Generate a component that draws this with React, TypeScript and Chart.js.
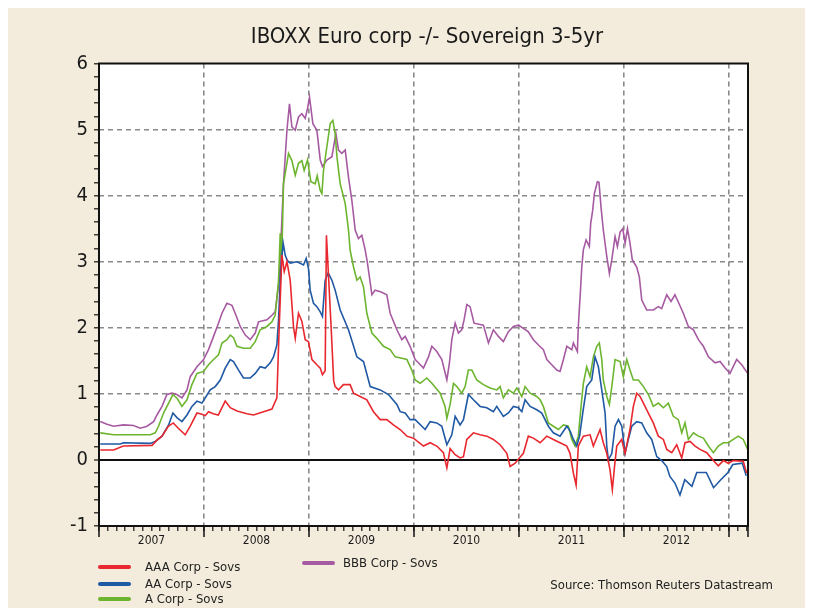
import React, { useEffect, useRef } from 'react';
import { Chart, registerables } from 'chart.js';

Chart.register(...registerables);

const FONT = '"Liberation Sans Narrow", "DejaVu Sans Condensed", "Liberation Sans", Arial, sans-serif';

const chartTitle = 'IBOXX Euro corp -/- Sovereign 3-5yr';
const sourceNote = 'Source: Thomson Reuters Datastream';
const yearLabels = ['2007', '2008', '2009', '2010', '2011', '2012'];
const seriesNames = ['AAA Corp - Sovs', 'AA Corp - Sovs', 'A Corp - Sovs', 'BBB Corp - Sovs'];
const seriesColors = ['#e8282e', '#1f58a3', '#6db52f', '#a65aa2'];

// [decimal year, spread %]
const aaaSeries: [number, number][] = [
  [2007.012, 0.15], [2007.139, 0.15], [2007.231, 0.21], [2007.505, 0.22], [2007.552, 0.3], [2007.6, 0.36],
  [2007.66, 0.51], [2007.707, 0.56], [2007.755, 0.48], [2007.821, 0.38], [2007.869, 0.51], [2007.933, 0.71],
  [2007.98, 0.69], [2008.012, 0.67], [2008.043, 0.73], [2008.088, 0.7], [2008.136, 0.68], [2008.202, 0.89],
  [2008.25, 0.79], [2008.314, 0.74], [2008.409, 0.7], [2008.472, 0.68], [2008.567, 0.73], [2008.647, 0.77],
  [2008.694, 0.94], [2008.716, 2.0], [2008.742, 3.1], [2008.764, 2.85], [2008.79, 3.0], [2008.821, 2.72],
  [2008.852, 2.02], [2008.869, 1.84], [2008.9, 2.22], [2008.932, 2.1], [2008.964, 1.82], [2008.995, 1.79],
  [2009.028, 1.52], [2009.075, 1.44], [2009.107, 1.39], [2009.128, 1.29], [2009.154, 1.35], [2009.166, 3.4],
  [2009.187, 2.75], [2009.211, 2.0], [2009.235, 1.2], [2009.249, 1.11], [2009.281, 1.06], [2009.328, 1.14],
  [2009.392, 1.14], [2009.424, 1.01], [2009.487, 0.96], [2009.551, 0.91], [2009.614, 0.73], [2009.678, 0.61],
  [2009.741, 0.61], [2009.804, 0.53], [2009.868, 0.46], [2009.932, 0.36], [2009.995, 0.33], [2010.09, 0.21],
  [2010.154, 0.26], [2010.217, 0.21], [2010.28, 0.11], [2010.313, -0.12], [2010.344, 0.17], [2010.392, 0.08],
  [2010.439, 0.03], [2010.471, 0.05], [2010.503, 0.31], [2010.566, 0.41], [2010.63, 0.38], [2010.693, 0.36],
  [2010.756, 0.31], [2010.82, 0.23], [2010.884, 0.1], [2010.915, -0.1], [2010.963, -0.05], [2011.01, 0.04],
  [2011.042, 0.1], [2011.089, 0.36], [2011.137, 0.33], [2011.201, 0.26], [2011.265, 0.36], [2011.327, 0.31],
  [2011.391, 0.26], [2011.455, 0.21], [2011.486, 0.1], [2011.518, -0.2], [2011.544, -0.38], [2011.565, 0.21],
  [2011.613, 0.36], [2011.677, 0.38], [2011.708, 0.21], [2011.772, 0.46], [2011.803, 0.26], [2011.836, 0.1],
  [2011.867, -0.15], [2011.889, -0.45], [2011.91, -0.1], [2011.931, 0.21], [2011.978, 0.31], [2012.01, 0.1],
  [2012.057, 0.46], [2012.089, 0.81], [2012.121, 1.01], [2012.153, 0.96], [2012.2, 0.81], [2012.232, 0.71],
  [2012.279, 0.56], [2012.327, 0.36], [2012.375, 0.31], [2012.407, 0.16], [2012.455, 0.11], [2012.502, 0.23],
  [2012.55, 0.03], [2012.581, 0.26], [2012.629, 0.28], [2012.677, 0.21], [2012.724, 0.16], [2012.788, 0.11],
  [2012.851, -0.01], [2012.898, -0.09], [2012.946, -0.01], [2012.993, -0.05], [2013.041, -0.01], [2013.136, -0.02],
  [2013.168, -0.2],
];

const aaSeries: [number, number][] = [
  [2007.012, 0.24], [2007.203, 0.24], [2007.234, 0.26], [2007.488, 0.25], [2007.536, 0.28], [2007.6, 0.36],
  [2007.663, 0.53], [2007.704, 0.71], [2007.742, 0.64], [2007.79, 0.58], [2007.838, 0.68], [2007.885, 0.81],
  [2007.933, 0.89], [2007.98, 0.86], [2008.012, 0.94], [2008.059, 1.06], [2008.107, 1.11], [2008.155, 1.21],
  [2008.202, 1.39], [2008.25, 1.52], [2008.281, 1.49], [2008.329, 1.36], [2008.376, 1.24], [2008.44, 1.24],
  [2008.488, 1.31], [2008.535, 1.41], [2008.583, 1.39], [2008.631, 1.47], [2008.662, 1.56], [2008.694, 1.74],
  [2008.71, 2.12], [2008.731, 2.9], [2008.754, 3.28], [2008.773, 3.1], [2008.792, 3.02], [2008.821, 2.98],
  [2008.885, 3.0], [2008.948, 2.95], [2008.973, 3.05], [2008.995, 2.9], [2009.011, 2.57], [2009.043, 2.37],
  [2009.075, 2.32], [2009.107, 2.24], [2009.128, 2.17], [2009.154, 2.72], [2009.183, 2.83], [2009.218, 2.72],
  [2009.249, 2.57], [2009.297, 2.27], [2009.376, 1.97], [2009.456, 1.56], [2009.519, 1.49], [2009.583, 1.11],
  [2009.678, 1.06], [2009.757, 0.99], [2009.837, 0.84], [2009.868, 0.73], [2009.916, 0.71], [2009.963, 0.61],
  [2010.011, 0.61], [2010.075, 0.51], [2010.106, 0.46], [2010.154, 0.58], [2010.217, 0.56], [2010.265, 0.51],
  [2010.313, 0.23], [2010.36, 0.38], [2010.392, 0.66], [2010.439, 0.53], [2010.471, 0.61], [2010.518, 0.99],
  [2010.566, 0.91], [2010.63, 0.81], [2010.693, 0.79], [2010.756, 0.73], [2010.788, 0.81], [2010.851, 0.66],
  [2010.899, 0.71], [2010.947, 0.81], [2010.994, 0.79], [2011.027, 0.73], [2011.058, 0.91], [2011.106, 0.81],
  [2011.169, 0.76], [2011.217, 0.71], [2011.28, 0.51], [2011.327, 0.41], [2011.391, 0.36], [2011.455, 0.51],
  [2011.486, 0.44], [2011.518, 0.31], [2011.55, 0.21], [2011.577, 0.36], [2011.607, 0.71], [2011.645, 1.11],
  [2011.693, 1.21], [2011.724, 1.56], [2011.756, 1.41], [2011.788, 1.06], [2011.82, 0.71], [2011.836, 0.21],
  [2011.851, 0.0], [2011.884, 0.1], [2011.915, 0.51], [2011.947, 0.61], [2011.979, 0.51], [2012.01, 0.1],
  [2012.041, 0.31], [2012.074, 0.51], [2012.121, 0.58], [2012.169, 0.56], [2012.216, 0.41], [2012.264, 0.31],
  [2012.312, 0.05], [2012.359, -0.01], [2012.407, -0.1], [2012.437, -0.25], [2012.485, -0.35], [2012.533, -0.53],
  [2012.579, -0.3], [2012.647, -0.4], [2012.693, -0.19], [2012.784, -0.19], [2012.853, -0.42], [2012.922, -0.3],
  [2012.99, -0.19], [2013.036, -0.07], [2013.127, -0.05], [2013.164, -0.24],
];

const aSeries: [number, number][] = [
  [2007.012, 0.41], [2007.139, 0.38], [2007.488, 0.38], [2007.536, 0.41], [2007.567, 0.51], [2007.615, 0.71],
  [2007.663, 0.86], [2007.704, 0.99], [2007.745, 0.93], [2007.79, 0.81], [2007.838, 0.91], [2007.885, 1.14],
  [2007.933, 1.31], [2007.996, 1.34], [2008.043, 1.44], [2008.091, 1.52], [2008.138, 1.59], [2008.171, 1.77],
  [2008.218, 1.82], [2008.25, 1.89], [2008.281, 1.85], [2008.314, 1.72], [2008.376, 1.69], [2008.44, 1.69],
  [2008.488, 1.79], [2008.535, 1.97], [2008.599, 2.02], [2008.647, 2.09], [2008.678, 2.19], [2008.71, 2.72],
  [2008.726, 3.43], [2008.74, 3.0], [2008.757, 4.18], [2008.805, 4.64], [2008.837, 4.53], [2008.869, 4.31],
  [2008.9, 4.49], [2008.932, 4.53], [2008.954, 4.38], [2008.986, 4.54], [2009.018, 4.21], [2009.059, 4.18],
  [2009.078, 4.3], [2009.107, 4.08], [2009.123, 4.03], [2009.138, 4.38], [2009.17, 4.74], [2009.202, 5.09],
  [2009.227, 5.14], [2009.249, 4.94], [2009.266, 4.59], [2009.297, 4.18], [2009.345, 3.88], [2009.376, 3.48],
  [2009.392, 3.17], [2009.424, 2.92], [2009.456, 2.72], [2009.487, 2.77], [2009.519, 2.62], [2009.551, 2.22],
  [2009.599, 1.92], [2009.646, 1.84], [2009.709, 1.72], [2009.773, 1.67], [2009.821, 1.56], [2009.884, 1.54],
  [2009.932, 1.52], [2009.979, 1.36], [2010.011, 1.21], [2010.059, 1.16], [2010.122, 1.24], [2010.17, 1.16],
  [2010.249, 1.01], [2010.296, 0.81], [2010.313, 0.63], [2010.344, 0.84], [2010.376, 1.16], [2010.408, 1.11],
  [2010.455, 1.01], [2010.487, 1.11], [2010.518, 1.36], [2010.551, 1.36], [2010.598, 1.21], [2010.661, 1.14],
  [2010.725, 1.09], [2010.789, 1.06], [2010.82, 1.11], [2010.851, 0.94], [2010.899, 1.06], [2010.947, 1.01],
  [2010.979, 1.09], [2011.027, 0.96], [2011.058, 1.11], [2011.106, 1.01], [2011.169, 0.96], [2011.201, 0.91],
  [2011.232, 0.81], [2011.28, 0.56], [2011.327, 0.51], [2011.375, 0.46], [2011.423, 0.53], [2011.47, 0.51],
  [2011.503, 0.31], [2011.534, 0.21], [2011.565, 0.36], [2011.591, 0.81], [2011.613, 1.16], [2011.645, 1.41],
  [2011.677, 1.26], [2011.708, 1.56], [2011.741, 1.72], [2011.765, 1.77], [2011.788, 1.52], [2011.803, 1.21],
  [2011.836, 0.96], [2011.861, 0.84], [2011.884, 1.11], [2011.915, 1.52], [2011.963, 1.49], [2011.994, 1.26],
  [2012.026, 1.52], [2012.057, 1.36], [2012.089, 1.21], [2012.137, 1.21], [2012.185, 1.11], [2012.232, 0.99],
  [2012.279, 0.81], [2012.327, 0.86], [2012.375, 0.79], [2012.422, 0.86], [2012.47, 0.66], [2012.518, 0.61],
  [2012.55, 0.41], [2012.581, 0.56], [2012.613, 0.31], [2012.661, 0.41], [2012.709, 0.36], [2012.756, 0.33],
  [2012.804, 0.21], [2012.851, 0.11], [2012.898, 0.21], [2012.946, 0.26], [2012.993, 0.26], [2013.041, 0.31],
  [2013.089, 0.36], [2013.136, 0.31], [2013.178, 0.16],
];

const bbbSeries: [number, number][] = [
  [2007.012, 0.58], [2007.076, 0.54], [2007.139, 0.51], [2007.234, 0.53], [2007.329, 0.52], [2007.393, 0.48],
  [2007.457, 0.51], [2007.52, 0.58], [2007.552, 0.68], [2007.6, 0.81], [2007.647, 0.99], [2007.695, 1.01],
  [2007.742, 0.99], [2007.79, 0.94], [2007.838, 1.06], [2007.869, 1.26], [2007.933, 1.41], [2007.996, 1.52],
  [2008.043, 1.67], [2008.091, 1.87], [2008.138, 2.07], [2008.171, 2.22], [2008.218, 2.37], [2008.266, 2.34],
  [2008.297, 2.22], [2008.345, 2.02], [2008.393, 1.89], [2008.44, 1.82], [2008.488, 1.92], [2008.519, 2.09],
  [2008.599, 2.12], [2008.647, 2.19], [2008.678, 2.24], [2008.716, 2.72], [2008.757, 4.18], [2008.79, 4.99],
  [2008.814, 5.39], [2008.837, 5.04], [2008.869, 4.99], [2008.9, 5.19], [2008.932, 5.24], [2008.964, 5.17],
  [2008.986, 5.32], [2009.005, 5.49], [2009.037, 5.09], [2009.075, 4.99], [2009.107, 4.54], [2009.128, 4.44],
  [2009.17, 4.54], [2009.218, 4.59], [2009.256, 4.94], [2009.281, 4.69], [2009.313, 4.64], [2009.345, 4.69],
  [2009.376, 4.28], [2009.408, 3.93], [2009.44, 3.48], [2009.471, 3.35], [2009.503, 3.4], [2009.535, 3.18],
  [2009.557, 2.98], [2009.599, 2.5], [2009.63, 2.57], [2009.687, 2.54], [2009.741, 2.5], [2009.773, 2.22],
  [2009.837, 1.97], [2009.884, 1.82], [2009.916, 1.87], [2009.963, 1.72], [2010.011, 1.52], [2010.042, 1.47],
  [2010.09, 1.39], [2010.138, 1.56], [2010.17, 1.72], [2010.217, 1.64], [2010.265, 1.52], [2010.313, 1.21],
  [2010.337, 1.46], [2010.36, 1.82], [2010.392, 2.07], [2010.423, 1.92], [2010.455, 1.97], [2010.477, 2.12],
  [2010.503, 2.35], [2010.534, 2.32], [2010.572, 2.07], [2010.661, 2.04], [2010.709, 1.77], [2010.756, 1.97],
  [2010.804, 1.87], [2010.851, 1.79], [2010.899, 1.94], [2010.947, 2.02], [2010.994, 2.04], [2011.042, 1.99],
  [2011.089, 1.94], [2011.137, 1.82], [2011.185, 1.74], [2011.232, 1.67], [2011.265, 1.52], [2011.312, 1.44],
  [2011.36, 1.36], [2011.391, 1.34], [2011.423, 1.52], [2011.455, 1.72], [2011.503, 1.67], [2011.518, 1.77],
  [2011.556, 1.64], [2011.565, 2.02], [2011.582, 2.47], [2011.598, 2.92], [2011.613, 3.18], [2011.639, 3.33],
  [2011.67, 3.23], [2011.683, 3.58], [2011.702, 3.78], [2011.718, 4.03], [2011.746, 4.21], [2011.762, 4.2],
  [2011.781, 3.83], [2011.803, 3.48], [2011.836, 3.08], [2011.861, 2.82], [2011.884, 3.03], [2011.915, 3.38],
  [2011.937, 3.23], [2011.963, 3.45], [2011.988, 3.5], [2012.011, 3.28], [2012.033, 3.5], [2012.057, 3.28],
  [2012.079, 3.03], [2012.121, 2.92], [2012.146, 2.77], [2012.169, 2.42], [2012.216, 2.27], [2012.279, 2.27],
  [2012.327, 2.32], [2012.359, 2.29], [2012.407, 2.5], [2012.448, 2.4], [2012.485, 2.5], [2012.517, 2.39],
  [2012.565, 2.22], [2012.613, 2.02], [2012.661, 1.97], [2012.709, 1.82], [2012.756, 1.72], [2012.804, 1.56],
  [2012.868, 1.47], [2012.915, 1.49], [2012.963, 1.39], [2013.01, 1.31], [2013.073, 1.52], [2013.121, 1.44],
  [2013.178, 1.31],
];

const allSeries = [aaaSeries, aaSeries, aSeries, bbbSeries];

const X_MIN = 2007;
const X_MAX = 2013.181;
const Y_MIN = -1;
const Y_MAX = 6;

const BG = '#f3ecdc';

export default function App() {
  const canvasRef = useRef<HTMLCanvasElement | null>(null);

  useEffect(() => {
    const canvas = canvasRef.current;
    if (!canvas) return;

    const framePlugin = {
      id: 'framePlugin',
      beforeDraw(chart: any) {
        const { ctx, chartArea: a } = chart;
        ctx.save();
        ctx.fillStyle = '#ffffff';
        ctx.fillRect(a.left, a.top, a.right - a.left, a.bottom - a.top);
        ctx.restore();
      },
      afterDatasetsDraw(chart: any) {
        const { ctx, chartArea: a, scales } = chart;
        ctx.save();
        ctx.strokeStyle = '#111';
        ctx.lineWidth = 2;
        ctx.strokeRect(a.left, a.top, a.right - a.left, a.bottom - a.top);
        const xs = scales.x;
        ctx.lineWidth = 1.5;
        ctx.beginPath();
        for (let yr = 2007; yr <= 2013; yr++) {
          const px = xs.getPixelForValue(yr);
          ctx.moveTo(px, a.bottom);
          ctx.lineTo(px, a.bottom + 11);
        }
        ctx.moveTo(a.right, a.bottom);
        ctx.lineTo(a.right, a.bottom + 11);
        ctx.stroke();
        ctx.restore();
      },
    };

    const chart = new Chart(canvas, {
      type: 'line',
      data: {
        datasets: allSeries.map((series, i) => ({
          label: seriesNames[i],
          data: series.map(([x, y]) => ({ x, y })),
          borderColor: seriesColors[i],
          backgroundColor: seriesColors[i],
          borderWidth: 1.6,
          pointRadius: 0,
          tension: 0,
          fill: false,
        })),
      },
      options: {
        animation: false,
        responsive: false,
        layout: { padding: { left: 0, right: 57, top: 55.5, bottom: 0 } },
        plugins: {
          legend: { display: false },
          tooltip: { enabled: false },
          title: { display: false },
        },
        scales: {
          x: {
            type: 'linear',
            min: X_MIN,
            max: X_MAX,
            afterBuildTicks: (s: any) => {
              const t = [];
              for (let m = 0; m <= 74; m++) t.push({ value: X_MIN + m / 12 });
              s.ticks = t;
            },
            afterFit: (s: any) => {
              s.height = 82;
            },
            ticks: {
              autoSkip: false,
              maxRotation: 0,
              minRotation: 0,
              padding: 3,
              color: '#1a1a1a',
              font: { family: FONT, size: 12 },
              callback: (_v: any, i: number) => (i % 12 === 6 ? yearLabels[(i - 6) / 12] : ''),
            },
            grid: {
              drawTicks: true,
              tickLength: 5,
              tickColor: '#111',
              tickWidth: 1.2,
              lineWidth: 1.6,
              color: (c: any) => (c.index % 12 === 0 && c.index > 0 ? '#8a8a8a' : 'rgba(0,0,0,0)'),
            },
            border: { display: false, dash: [5, 4] },
          },
          y: {
            type: 'linear',
            min: Y_MIN,
            max: Y_MAX,
            afterBuildTicks: (s: any) => {
              const t = [];
              for (let k = Y_MIN * 5; k <= Y_MAX * 5; k++) t.push({ value: k / 5 });
              s.ticks = t;
            },
            afterFit: (s: any) => {
              s.width = 91;
            },
            ticks: {
              autoSkip: false,
              padding: 6,
              color: '#1a1a1a',
              font: { family: FONT, size: 20 },
              callback: (v: any) => (Number.isInteger(v) ? String(v) : ''),
            },
            grid: {
              drawTicks: true,
              tickLength: 5,
              tickColor: '#111',
              tickWidth: 1.2,
              lineWidth: (c: any) => (c.tick && c.tick.value === 0 ? 2 : 1.6),
              color: (c: any) => {
                const v = c.tick ? c.tick.value : NaN;
                if (v === 0) return '#111';
                if (Number.isInteger(v) && v > Y_MIN && v < Y_MAX) return '#8a8a8a';
                return 'rgba(0,0,0,0)';
              },
            },
            border: {
              display: false,
              dash: (c: any) => (c.tick && c.tick.value === 0 ? [] : [5, 4]),
            },
          },
        },
      },
      plugins: [framePlugin],
    });

    return () => {
      chart.destroy();
    };
  }, []);

  const textStyle: React.CSSProperties = {
    position: 'absolute',
    fontFamily: FONT,
    fontSize: 13,
    lineHeight: '18px',
    color: '#222',
    whiteSpace: 'nowrap',
  };

  const legendRows = [
    { i: 0, lineLeft: 90, textLeft: 137, cy: 559 },
    { i: 1, lineLeft: 90, textLeft: 137, cy: 576 },
    { i: 2, lineLeft: 90, textLeft: 137, cy: 591 },
    { i: 3, lineLeft: 294, textLeft: 335, cy: 555 },
  ];

  return (
    <div style={{ position: 'relative', width: 797, height: 600, background: BG, overflow: 'hidden' }}>
      <canvas ref={canvasRef} width={797} height={600} style={{ position: 'absolute', left: 0, top: 0 }} />
      <div
        style={{
          position: 'absolute',
          left: 419,
          top: 15,
          transform: 'translateX(-50%)',
          fontFamily: FONT,
          fontSize: 22,
          lineHeight: '26px',
          color: '#1a1a1a',
          whiteSpace: 'nowrap',
        }}
      >
        {chartTitle}
      </div>
      {legendRows.map((r) => (
        <React.Fragment key={r.i}>
          <div
            style={{
              position: 'absolute',
              left: r.lineLeft,
              top: r.cy - 2,
              width: 33,
              height: 4,
              borderRadius: 2,
              background: seriesColors[r.i],
            }}
          />
          <div style={{ ...textStyle, left: r.textLeft, top: r.cy - 9 }}>{seriesNames[r.i]}</div>
        </React.Fragment>
      ))}
      <div style={{ ...textStyle, right: 32, top: 577 - 9 }}>{sourceNote}</div>
    </div>
  );
}
